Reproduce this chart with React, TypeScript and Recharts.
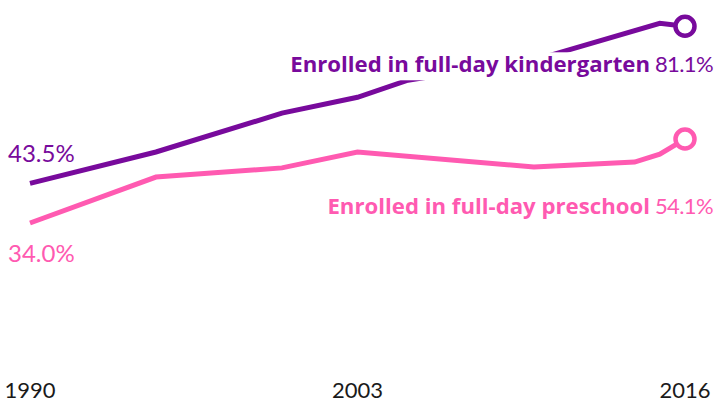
import React from 'react';
import { LineChart, Line, XAxis, YAxis, LabelList } from 'recharts';

const years = [1990, 1995, 2000, 2003, 2005, 2010, 2014, 2015, 2016];
const kindergarten = [43.5, 51.0, 60.3, 64.1, 68.2, 73.0, null, 81.8, 81.1];
const preschool = [34.0, 45.0, 47.2, 51.0, null, 47.4, 48.6, 50.5, 54.1];
const xTicks = [1990, 2003, 2016];
const kinderLabel = 'Enrolled in full-day kindergarten';
const preLabel = 'Enrolled in full-day preschool';

const PURPLE = '#780a9c';
const PINK = '#ff5ab1';
const NUM_FONT = 'Lato, sans-serif';
const BOLD_FONT = '"Open Sans", sans-serif';

const data = years.map((year, i) => ({ year, kindergarten: kindergarten[i], preschool: preschool[i] }));
const last = years.length - 1;

const fmt = (v: number) => `${v.toFixed(1)}%`;

const makeLabel = (color: string, name: string, startDy: number, endDy: number, withBox: boolean) => (props: any) => {
  const { x, y, index, value } = props;
  if (value == null) return null;
  if (index === 0) {
    return (
      <text x={x - 22} y={y + startDy} fill={color} fontFamily={NUM_FONT} fontSize={24} textAnchor="start">
        {fmt(value)}
      </text>
    );
  }
  if (index === last) {
    return (
      <g>
        {withBox && <rect x={x - 395} y={y + endDy - 20} width={362} height={28} fill="#ffffff" />}
        <text x={x - 35} y={y + endDy} fill={color} fontFamily={BOLD_FONT} fontWeight={700} fontSize={22.2} textAnchor="end">
          {name}
        </text>
        <text x={x + 28} y={y + endDy} fill={color} fontFamily={NUM_FONT} fontSize={22} letterSpacing={-0.6} textAnchor="end">
          {fmt(value)}
        </text>
      </g>
    );
  }
  return null;
};

const makeDot = (color: string) => (props: any) => {
  const { cx, cy, index } = props;
  if (index !== last || cy == null) return <g key={`d-${index}`} />;
  return <circle key={`d-${index}`} cx={cx} cy={cy} r={9.5} fill="#ffffff" stroke={color} strokeWidth={4.5} />;
};

const YearTick = (props: any) => {
  const { x, y, payload } = props;
  return (
    <text x={x} y={y + 25} textAnchor="middle" fill="#1a1a1a" fontFamily={NUM_FONT} fontSize={22}>
      {payload.value}
    </text>
  );
};

export default function App() {
  return (
    <div style={{ position: 'absolute', left: 0, top: 0, background: '#ffffff' }}>
      <LineChart width={714} height={403} data={data} margin={{ top: 10, right: 29, bottom: 0, left: 30 }}>
        <XAxis
          dataKey="year"
          type="number"
          domain={[1990, 2016]}
          ticks={xTicks}
          axisLine={false}
          tickLine={false}
          height={38}
          tick={<YearTick />}
          interval={0}
        />
        <YAxis hide domain={[0, 85]} />
        <Line
          type="linear"
          dataKey="kindergarten"
          stroke={PURPLE}
          strokeWidth={5}
          connectNulls
          dot={makeDot(PURPLE)}
          activeDot={false}
          isAnimationActive={false}
        >
          <LabelList dataKey="kindergarten" content={makeLabel(PURPLE, kinderLabel, -21, 46, true)} />
        </Line>
        <Line
          type="linear"
          dataKey="preschool"
          stroke={PINK}
          strokeWidth={5}
          connectNulls
          dot={makeDot(PINK)}
          activeDot={false}
          isAnimationActive={false}
        >
          <LabelList dataKey="preschool" content={makeLabel(PINK, preLabel, 39, 75, false)} />
        </Line>
      </LineChart>
    </div>
  );
}
